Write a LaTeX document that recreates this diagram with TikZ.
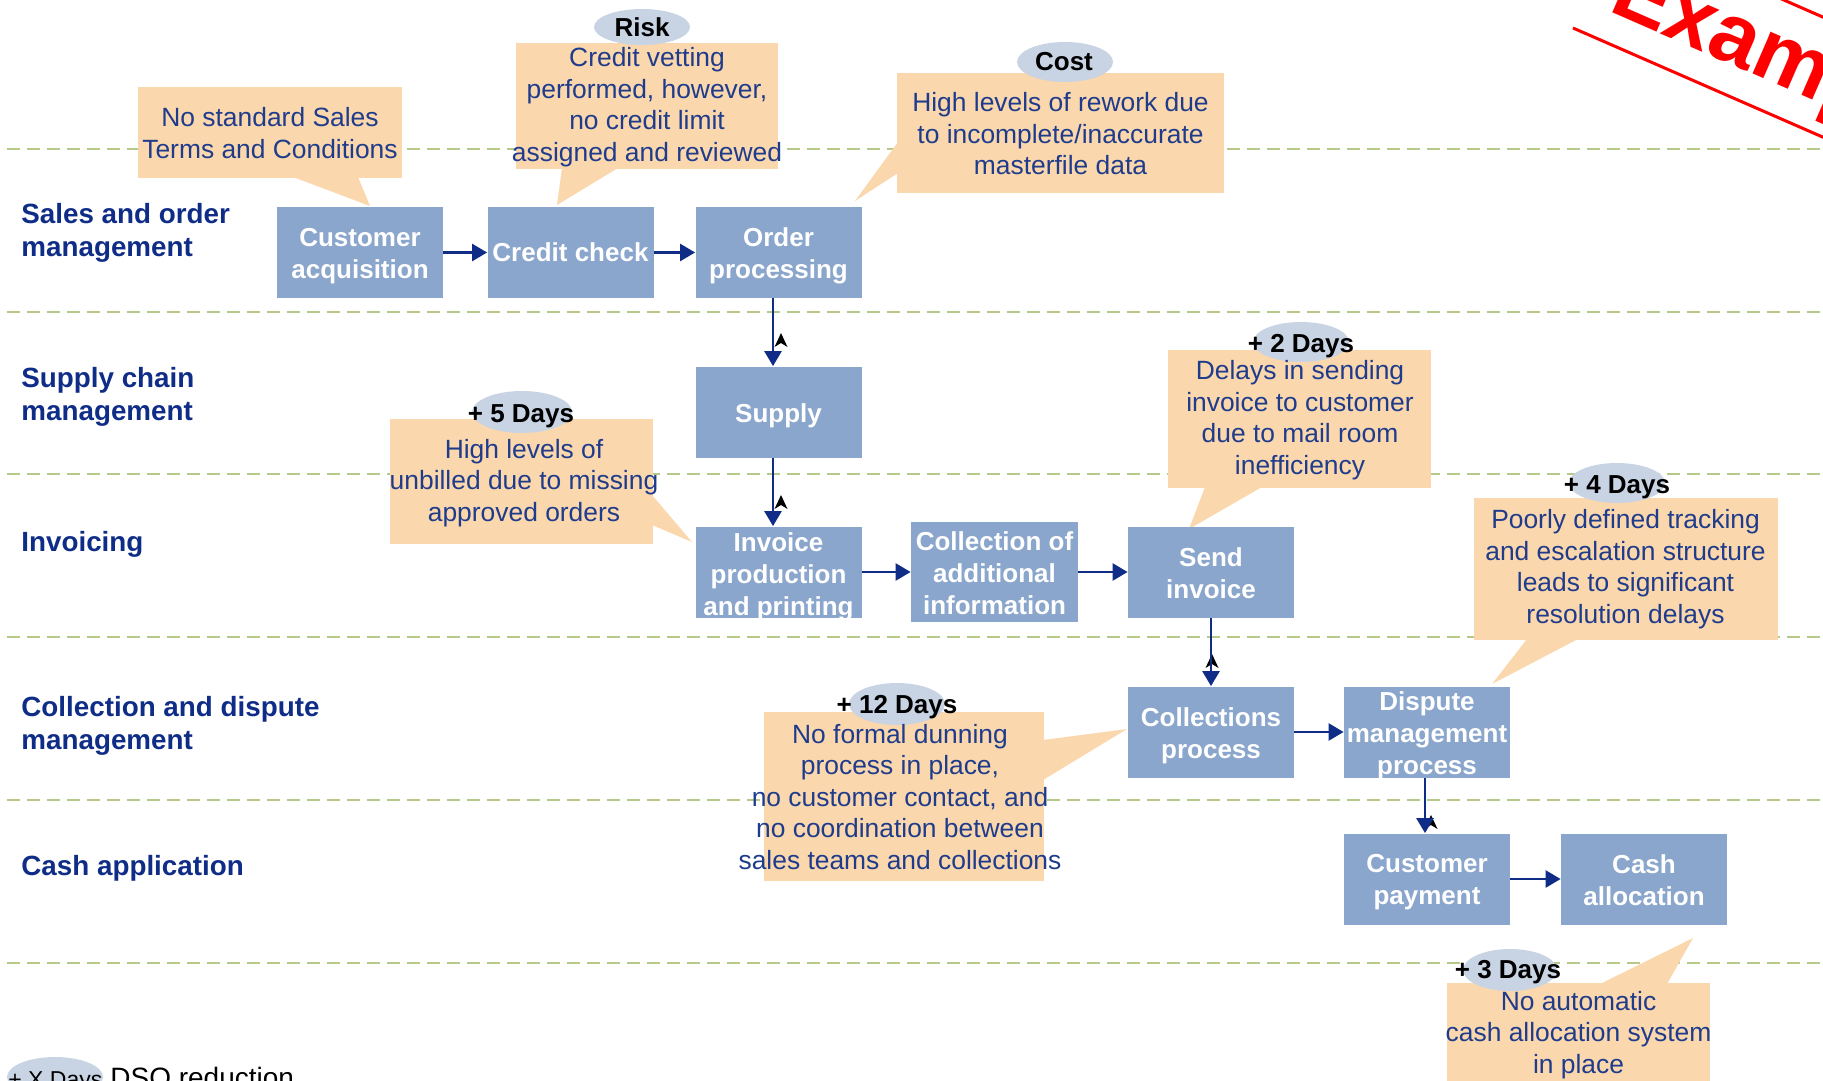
\documentclass[tikz,border=0pt]{standalone}
\usepackage{fontspec}
\setmainfont{Liberation Sans}
\usetikzlibrary{arrows.meta}
\definecolor{boxblue}{RGB}{138,166,204}
\definecolor{peach}{RGB}{250,215,172}
\definecolor{ellgrey}{RGB}{200,212,228}
\definecolor{navy}{RGB}{15,45,135}
\definecolor{calltext}{RGB}{31,60,140}
\definecolor{lanegreen}{RGB}{181,201,138}
\begin{document}
\begin{tikzpicture}[x=0.5pt,y=-0.5pt,
 proc/.style={rectangle, fill=boxblue, minimum width=83pt, minimum height=45.5pt, inner sep=0pt},
 proctxt/.style={text=white, font=\bfseries\fontsize{13}{16}\selectfont, align=center, inner sep=0pt},
 arr/.style={draw=navy, line width=1.3pt, -{Triangle[length=7.5pt,width=8.5pt]}},
 lane/.style={anchor=west, align=left, text=navy, font=\bfseries\fontsize{13.9}{16.5}\selectfont, inner sep=0pt},
 calltxt/.style={align=center, text=calltext, font=\fontsize{13.2}{15.75}\selectfont, inner sep=0pt},
 daytag/.style={anchor=base, font=\bfseries\fontsize{13}{15}\selectfont, text=black, inner sep=0pt},
 lanesep/.style={draw=lanegreen, line width=1pt, dash pattern=on 6.5pt off 3.5pt},
 callfill/.style={fill=peach},
 ellfill/.style={fill=ellgrey},
 chev/.pic={\fill[black] (0,-7) -- (6.5,7) -- (0,3) -- (-6.5,7) -- cycle;}
]
\useasboundingbox (0,0) rectangle (1823,1080);
\clip (0,0) rectangle (1823,1080);

% lane separators
\foreach \yy in {149,312,474,637,800,963}
  \draw[lanesep] (7,\yy) -- (1823,\yy);

% callout backgrounds
\fill[callfill] (138,87) rectangle (402,178);
\fill[callfill] (293,177) -- (370,206) -- (358,177) -- cycle;
\fill[callfill] (516,43) rectangle (778,169);
\fill[callfill] (562,168) -- (557,205) -- (618,168) -- cycle;
\fill[callfill] (897,73) rectangle (1224,193);
\fill[callfill] (898,142) -- (855,201) -- (898,173) -- cycle;
\fill[callfill] (390,419) rectangle (653,544);
\fill[callfill] (652,495) -- (692,542) -- (652,525) -- cycle;
\fill[callfill] (1168,350) rectangle (1431,488);
\fill[callfill] (1205,487) -- (1189,529) -- (1262,487) -- cycle;
\fill[callfill] (1474,498) rectangle (1778,640);
\fill[callfill] (1527,639) -- (1492,684) -- (1578,639) -- cycle;
\fill[callfill] (764,712) rectangle (1044,881);
\fill[callfill] (1043,740) -- (1127,729) -- (1043,780) -- cycle;
\fill[callfill] (1447,983) rectangle (1710,1090);
\fill[callfill] (1600,984) -- (1693,938) -- (1667,984) -- cycle;

% tag ellipses
\fill[ellfill] (642,27) ellipse [x radius=24pt, y radius=9pt];
\fill[ellfill] (1065,62) ellipse [x radius=24pt, y radius=10pt];
\fill[ellfill] (522,412) ellipse [x radius=25pt, y radius=10.5pt];
\fill[ellfill] (1301,342) ellipse [x radius=24pt, y radius=10pt];
\fill[ellfill] (1617,483) ellipse [x radius=24pt, y radius=10pt];
\fill[ellfill] (897,704) ellipse [x radius=24pt, y radius=10.5pt];
\fill[ellfill] (1510,970) ellipse [x radius=23.5pt, y radius=10.5pt];
\fill[ellfill] (55,1077) ellipse [x radius=24pt, y radius=10pt];

% tag texts
\node[daytag] (e1) at (642,37) {Risk};
\node[daytag] (e2) at (1064,71) {Cost};
\node[daytag] (e3) at (521,422) {+ 5 Days};
\node[daytag] (e4) at (1301,352) {+ 2 Days};
\node[daytag] (e5) at (1617,493) {+ 4 Days};
\node[daytag] (e6) at (897,713) {+ 12 Days};
\node[daytag] (e7) at (1508,978) {+ 3 Days};

% callout texts
\node[calltxt] (c1) at (270,133) {No standard Sales\\Terms and Conditions};
\node[calltxt] (c2) at (647,107) {Credit vetting\\performed, however,\\no credit limit\\assigned and reviewed};
\node[calltxt] (c3) at (1060.5,134) {High levels of rework due\\to incomplete/inaccurate\\masterfile data};
\node[calltxt] (c4) at (524,483) {High levels of\\unbilled due to missing\\approved orders};
\node[calltxt] (c5) at (1300,420) {Delays in sending\\invoice to customer\\due to mail room\\inefficiency};
\node[calltxt] (c6) at (1625.5,569) {Poorly defined tracking\\and escalation structure\\leads to significant\\resolution delays};
\node[calltxt] (c7) at (900,797) {No formal dunning\\process in place,\\no customer contact, and\\no coordination between\\sales teams and collections};
\node[calltxt] (c8) at (1578.5,1035) {No automatic\\cash allocation system\\in place};

% small black arrow marks
\pic at (781,340) {chev};
\pic at (781,502) {chev};
\pic at (1212,661) {chev};
\pic at (1431,822) {chev};

% process boxes
\node[proc] (cust) at (360,252.5) {};
\node[proc] (credit) at (570.5,252.5) {};
\node[proc] (order) at (778.5,252.5) {};
\node[proc] (supply) at (778.5,412) {};
\node[proc] (invprod) at (778.5,572) {};
\node[proc, minimum width=83.5pt, minimum height=50pt] (collinfo) at (994.5,572) {};
\node[proc] (send) at (1211,572) {};
\node[proc] (collproc) at (1211,732) {};
\node[proc] (dispute) at (1427,732) {};
\node[proc] (custpay) at (1427,879) {};
\node[proc] (cash) at (1644,879) {};

% process box labels
\node[proctxt] (custt) at ([yshift=-1.75pt]cust.center) {Customer\\acquisition};
\node[proctxt] (creditt) at (credit.center) {Credit check};
\node[proctxt] (ordert) at ([yshift=-1.75pt]order.center) {Order\\processing};
\node[proctxt] (supplyt) at ([yshift=-1.75pt]supply.center) {Supply};
\node[proctxt] (invprodt) at ([yshift=-2.25pt]invprod.center) {Invoice\\production\\and printing};
\node[proctxt] (collinfot) at ([yshift=-0.5pt]collinfo.center) {Collection of\\additional\\information};
\node[proctxt] (sendt) at ([yshift=-0.5pt]send.center) {Send\\invoice};
\node[proctxt] (collproct) at ([yshift=-1.75pt]collproc.center) {Collections\\process};
\node[proctxt] (disputet) at ([yshift=-1.75pt]dispute.center) {Dispute\\management\\process};
\node[proctxt] (custpayt) at ([yshift=-1.75pt]custpay.center) {Customer\\payment};
\node[proctxt] (casht) at ([yshift=-0.5pt]cash.center) {Cash\\allocation};

% connectors
\draw[arr] (cust) -- (credit);
\draw[arr] (credit) -- (order);
\draw[arr] ([xshift=-2.75pt]order.south) -- ([xshift=-2.75pt]supply.north);
\draw[arr] ([xshift=-2.75pt]supply.south) -- ([xshift=-2.75pt]invprod.north);
\draw[arr] (invprod) -- (collinfo);
\draw[arr] (collinfo) -- (send);
\draw[arr] (send) -- (collproc);
\draw[arr] (collproc) -- (dispute);
\draw[arr] ([xshift=-1pt]dispute.south) -- ([xshift=-1pt]custpay.north);
\draw[arr] (custpay) -- (cash);

% lane labels
\node[lane] (l1) at (21,232.5) {Sales and order\\management};
\node[lane] (l2) at (21,396.5) {Supply chain\\management};
\node[lane] (l3) at (21,544) {Invoicing};
\node[lane] (l4) at (21,725.5) {Collection and dispute\\management};
\node[lane] (l5) at (21,868) {Cash application};

% example stamp
\node[rotate=-23.6, anchor=base west, text=red, font=\bfseries\fontsize{43}{43}\selectfont, inner sep=0pt] (stamp) at (1607,10) {Example};
\draw[red, line width=1.5pt] (1573,28) -- (1850,149);
\draw[red, line width=1.5pt] (1745,-17) -- (1850,29);

% legend
\node[anchor=base west, inner sep=0pt, font=\fontsize{11.5}{14}\selectfont] (lg1) at (8,1087) {+ X Days};
\node[anchor=base west, inner sep=0pt, font=\fontsize{14}{16}\selectfont] (lg2) at (110,1087) {DSO reduction};
\end{tikzpicture}
\end{document}
